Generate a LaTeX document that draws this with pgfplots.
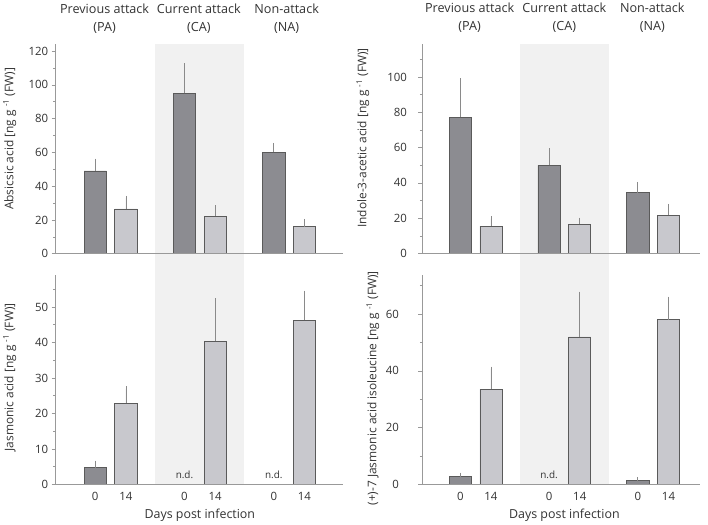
\documentclass[border=0pt]{standalone}
\usepackage{fontspec}
\setmainfont{Open Sans}
\usepackage{pgfplots}
\pgfplotsset{compat=1.18}
\definecolor{darkbar}{HTML}{8C8C91}
\definecolor{lightbar}{HTML}{C8C8CD}
\definecolor{barline}{HTML}{5A5A5A}
\definecolor{axisgray}{HTML}{999999}
\definecolor{bgshade}{HTML}{F1F1F1}
\definecolor{txt}{HTML}{333333}
\definecolor{errgray}{HTML}{8A8A8A}
\newcommand{\lblfont}{\fontsize{12}{14}\selectfont}
\newcommand{\xlblfont}{\fontsize{12.5}{14}\selectfont}
\newcommand{\tckfont}{\fontsize{11.5}{13}\selectfont}
\tikzset{
  nd/.style={font=\fontsize{10}{11}\selectfont, text=txt, anchor=south, yshift=2bp},
  ttl/.style={font=\fontsize{12.7}{18}\selectfont, text=txt, align=center, anchor=center, yshift=26bp},
}
\pgfplotsset{
  panel/.style={
    scale only axis, height=210bp, axis lines*=left, ymin=0, clip=false,
    axis on top,
    axis line style={draw=axisgray, line width=0.8pt},
    tick align=outside, major tick length=4bp, minor tick length=2.5bp,
    ytick style={draw=axisgray, line width=0.6pt},
    xtick style={draw=none},
    /pgf/number format/assume math mode=true,
    yticklabel style={font=\tckfont, text=txt},
    xticklabel style={font=\tckfont, text=txt},
  },
  leftp/.style={width=288bp, xmin=0.3855, xmax=3.603},
  rightp/.style={width=278.3bp, xmin=0.401, xmax=3.528},
  bars/.style={ybar, bar width=0.25, bar shift=0pt, draw=barline, line width=0.7pt, fill=#1,
    error bars/.cd, y dir=plus, y explicit,
    error bar style={draw=errgray, line width=0.8pt},
    error mark options={draw=errgray, line width=0.8pt, mark size=2.2bp}},
}
\begin{document}
\begin{tikzpicture}
\path (0,0) rectangle (708bp,-522bp);
% ---------- top left: ABA
\begin{axis}[panel, leftp, at={(54bp,-252bp)}, anchor=south west,
  ymax=124, ytick={0,20,...,120}, minor ytick={10,30,...,110},
  xtick=\empty,
  every axis y label/.style={at={(axis description cs:-0.160,0.548)}, rotate=90, anchor=center, font=\lblfont, text=txt},
  ylabel={Absicsic acid [ng g \textsuperscript{-1} (FW)]}]
\fill[bgshade] ({axis cs:1.5,0} |- {rel axis cs:0,1}) rectangle ({axis cs:2.5,0} |- {rel axis cs:0,-0.103});
\addplot[bars=darkbar] table[x=x, y=y, y error=e] {
x y e
0.828 49 6
1.828 95 16.6
2.828 60 4.3
};
\addplot[bars=lightbar] table[x=x, y=y, y error=e] {
x y e
1.172 26.5 6.5
2.172 22.3 5.1
3.172 16 3.3
};
\node[ttl] at ({axis cs:0.933,0} |- {rel axis cs:0,1}) {Previous attack\\(PA)};
\node[ttl] at ({axis cs:1.989,0} |- {rel axis cs:0,1}) {Current attack\\(CA)};
\node[ttl] at ({axis cs:2.972,0} |- {rel axis cs:0,1}) {Non-attack\\(NA)};
\end{axis}
% ---------- top right: IAA
\begin{axis}[panel, rightp, at={(421.7bp,-251.7bp)}, anchor=south west,
  ymax=118.8, ytick={0,20,...,100}, minor ytick={10,30,...,110},
  xtick=\empty, yticklabel style={xshift=-8bp},
  every axis y label/.style={at={(axis description cs:-0.2145,0.551)}, rotate=90, anchor=center, font=\lblfont, text=txt},
  ylabel={Indole-3-acetic acid [ng g \textsuperscript{-1} (FW)]}]
\fill[bgshade] ({axis cs:1.5,0} |- {rel axis cs:0,1}) rectangle ({axis cs:2.5,0} |- {rel axis cs:0,-0.103});
\addplot[bars=darkbar] table[x=x, y=y, y error=e] {
x y e
0.827 77.2 20.9
1.827 50 8.5
2.827 34.4 5
};
\addplot[bars=lightbar] table[x=x, y=y, y error=e] {
x y e
1.173 15.5 4.3
2.173 16.6 2.5
3.173 21.7 5.1
};
\node[ttl] at ({axis cs:0.933,0} |- {rel axis cs:0,1}) {Previous attack\\(PA)};
\node[ttl] at ({axis cs:2.0,0} |- {rel axis cs:0,1}) {Current attack\\(CA)};
\node[ttl] at ({axis cs:2.99,0} |- {rel axis cs:0,1}) {Non-attack\\(NA)};
\end{axis}
% ---------- bottom left: JA
\begin{axis}[panel, leftp, at={(54bp,-483.3bp)}, anchor=south west,
  ymax=59, ytick={0,10,...,50}, minor ytick={5,15,...,55},
  xtick={0.828,1.172,1.828,2.172,2.828,3.172}, xticklabels={0,14,0,14,0,14},
  every axis y label/.style={at={(axis description cs:-0.160,0.511)}, rotate=90, anchor=center, font=\lblfont, text=txt},
  ylabel={Jasmonic acid [ng g \textsuperscript{-1} (FW)]},
  every axis x label/.style={at={(axis description cs:0.5018,-0.1476)}, anchor=center, font=\xlblfont, text=txt},
  xlabel={Days post infection}]
\fill[bgshade] ({axis cs:1.5,0} |- {rel axis cs:0,1}) rectangle ({axis cs:2.5,0} |- {rel axis cs:0,0});
\addplot[bars=darkbar] table[x=x, y=y, y error=e] {
x y e
0.828 4.7 1.4
};
\addplot[bars=lightbar] table[x=x, y=y, y error=e] {
x y e
1.172 22.9 4.1
2.172 40.4 11.4
3.172 46.3 7.7
};
\node[nd] at (axis cs:1.828,0) {n.d.};
\node[nd] at (axis cs:2.828,0) {n.d.};
\end{axis}
% ---------- bottom right: JA-Ile
\begin{axis}[panel, rightp, at={(421.7bp,-483.3bp)}, anchor=south west,
  ymax=73.8, ytick={0,20,...,60}, minor ytick={10,30,...,70},
  xtick={0.827,1.173,1.827,2.173,2.827,3.173}, xticklabels={0,14,0,14,0,14},
  yticklabel style={xshift=-16bp},
  every axis y label/.style={at={(axis description cs:-0.1786,0.459)}, rotate=90, anchor=center, font=\lblfont, text=txt},
  ylabel={(+)-7 Jasmonic acid isoleucine [ng g \textsuperscript{-1} (FW)]},
  every axis x label/.style={at={(axis description cs:0.5113,-0.1476)}, anchor=center, font=\xlblfont, text=txt},
  xlabel={Days post infection}]
\fill[bgshade] ({axis cs:1.5,0} |- {rel axis cs:0,1}) rectangle ({axis cs:2.5,0} |- {rel axis cs:0,0});
\addplot[bars=darkbar] table[x=x, y=y, y error=e] {
x y e
0.827 2.8 0.6
2.827 1.4 0.35
};
\addplot[bars=lightbar] table[x=x, y=y, y error=e] {
x y e
1.173 33.5 7.2
2.173 52 15.2
3.173 58 7.4
};
\node[nd] at (axis cs:1.827,0) {n.d.};
\end{axis}
\end{tikzpicture}
\end{document}
